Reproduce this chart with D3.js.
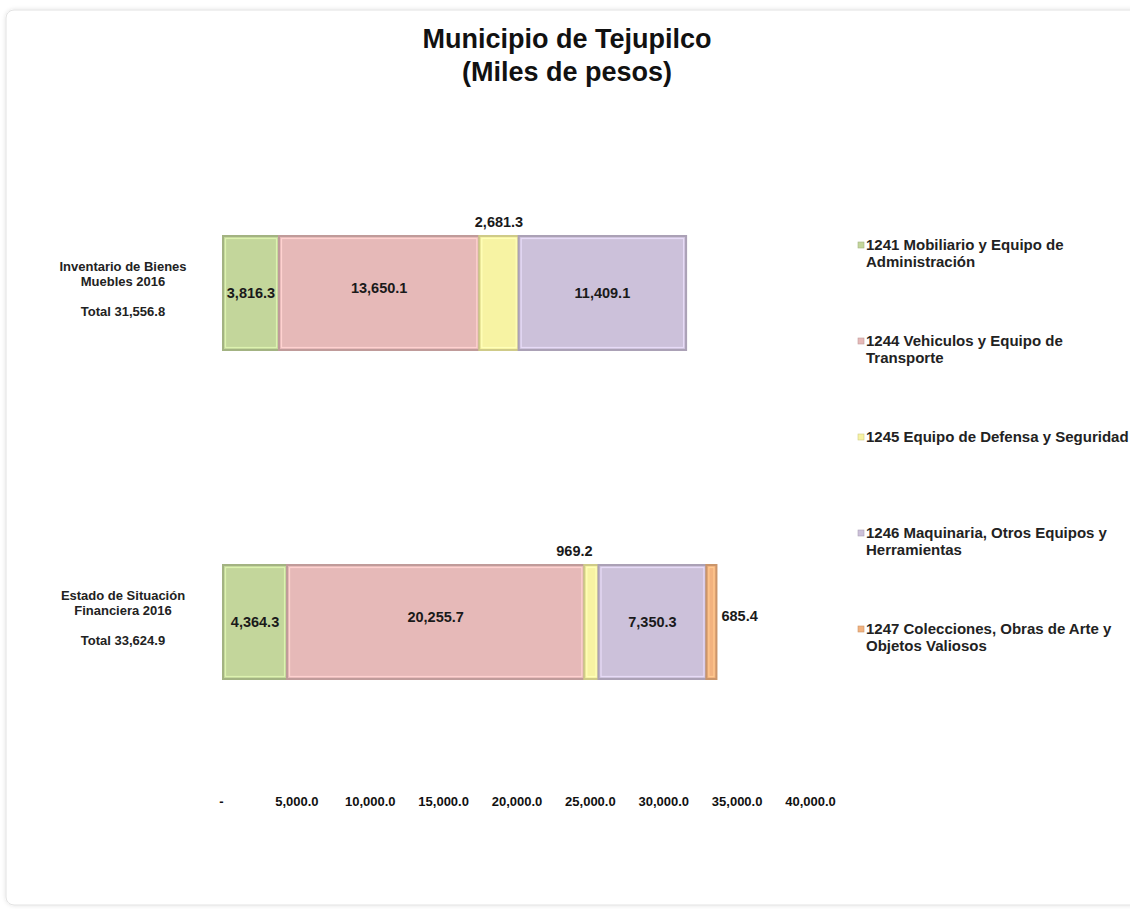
<!DOCTYPE html>
<html>
<head>
<meta charset="utf-8">
<script src="https://cdn.jsdelivr.net/npm/d3@7"></script>
<style>
  html, body { margin: 0; padding: 0; background: #fff; }
  svg { display: block; }
</style>
</head>
<body>
<svg id="chart" width="1130" height="909"></svg>
<script>
// Chart data
const categories = ["Inventario", "Estado"];
const categoryLines = [
  ["Inventario de Bienes", "Muebles 2016", "", "Total 31,556.8"],
  ["Estado de Situación", "Financiera 2016", "", "Total  33,624.9"]
];
const seriesNames = [
  "1241 Mobiliario y Equipo de Administración",
  "1244 Vehiculos y Equipo de Transporte",
  "1245 Equipo de Defensa y Seguridad",
  "1246 Maquinaria, Otros Equipos y Herramientas",
  "1247 Colecciones, Obras de Arte y Objetos Valiosos"
];
const legendLines = [
  ["1241 Mobiliario y Equipo de", "Administración"],
  ["1244 Vehiculos y Equipo de", "Transporte"],
  ["1245 Equipo de Defensa y Seguridad"],
  ["1246 Maquinaria, Otros Equipos y", "Herramientas"],
  ["1247 Colecciones, Obras de Arte y", "Objetos Valiosos"]
];
const inventarioValues = [3816.3, 13650.1, 2681.3, 11409.1, 0];
const estadoValues = [4364.3, 20255.7, 969.2, 7350.3, 685.4];
const tickValues = [0, 5000, 10000, 15000, 20000, 25000, 30000, 35000, 40000];
const colors = ["#c3d69b", "#e6b9b8", "#f7f3a3", "#ccc1da", "#f2b27f"];

const svg = d3.select("#chart");
const narrow = "'Liberation Sans Narrow', 'Arial Narrow', 'Liberation Sans', Arial, sans-serif";
const sans = "'Liberation Sans', Arial, sans-serif";

// Frame with soft shadow
const defs = svg.append("defs");
const f = defs.append("filter").attr("id", "shadow").attr("x", "-5%").attr("y", "-5%").attr("width", "110%").attr("height", "110%");
f.append("feDropShadow").attr("dx", 0).attr("dy", 0).attr("stdDeviation", 2).attr("flood-color", "#000").attr("flood-opacity", 0.12);
svg.append("rect").attr("x", 6).attr("y", 10).attr("width", 1200).attr("height", 895).attr("rx", 8)
  .attr("fill", "#fff").attr("stroke", "#e2e2e2").attr("filter", "url(#shadow)");

// Title
svg.append("text").attr("x", 567).attr("y", 48).attr("text-anchor", "middle")
  .attr("font-family", narrow).attr("font-weight", 700).attr("font-size", 27).attr("fill", "#111")
  .text("Municipio de Tejupilco");
svg.append("text").attr("x", 567).attr("y", 81).attr("text-anchor", "middle")
  .attr("font-family", narrow).attr("font-weight", 700).attr("font-size", 27).attr("fill", "#111")
  .text("(Miles de pesos)");

// Scales
const x = d3.scaleLinear().domain([0, 40000]).range([223, 810]);
const y = d3.scalePoint().domain(categories).range([293, 622]);
const barH = 114;

const rows = [inventarioValues, estadoValues].map((vals, ci) => {
  let acc = 0;
  return vals.map((v, si) => {
    const d = { cat: categories[ci], si, v, x0: acc, x1: acc + v };
    acc += v;
    return d;
  });
});

// Bars
const bars = svg.append("g");
rows.flat().filter(d => d.v > 0).forEach(d => {
  const x0 = x(d.x0), x1 = x(d.x1), yc = y(d.cat);
  const c = d3.color(colors[d.si]);
  bars.append("rect").attr("x", x0).attr("y", yc - barH / 2).attr("width", x1 - x0).attr("height", barH)
    .attr("fill", c.formatHex()).attr("stroke", c.darker(0.5).formatHex()).attr("stroke-width", 2);
  if (x1 - x0 > 6) {
    bars.append("rect").attr("x", x0 + 2.5).attr("y", yc - barH / 2 + 2.5).attr("width", x1 - x0 - 5).attr("height", barH - 5)
      .attr("fill", "none").attr("stroke", c.brighter(0.35).formatHex()).attr("stroke-width", 1.2);
  }
});

// Data labels
const fmt = d3.format(",.1f");
const labels = svg.append("g").attr("font-family", sans).attr("font-weight", 700).attr("font-size", 14.5).attr("fill", "#1a1a1a");
rows.flat().filter(d => d.v > 0).forEach(d => {
  const x0 = x(d.x0), x1 = x(d.x1), yc = y(d.cat);
  let lx = (x0 + x1) / 2, ly = yc + 5, anchor = "middle";
  if (d.si === 1) ly = yc;
  if (x1 - x0 < 45) {
    if (d.si === 2) { ly = yc - barH / 2 - 9; lx = d.cat === "Estado" ? lx - 17 : lx; }
    else { lx = x1 + 5; anchor = "start"; ly = yc - 1; }
  }
  labels.append("text").attr("x", lx).attr("y", ly).attr("text-anchor", anchor).text(fmt(d.v));
});

// Category labels
const catG = svg.append("g").attr("font-family", sans).attr("font-weight", 700).attr("font-size", 13).attr("fill", "#222")
  .attr("text-anchor", "middle");
categories.forEach((c, i) => {
  categoryLines[i].forEach((line, j) => {
    if (!line) return;
    catG.append("text").attr("x", 123).attr("y", y(c) - 22 + j * 14.5 + (j >= 3 ? 1 : 0)).text(line);
  });
});

// X axis
const axis = d3.axisBottom(x).tickValues(tickValues).tickSize(0)
  .tickFormat(v => v === 0 ? "-" : fmt(v));
const ax = svg.append("g").attr("transform", "translate(0,794)").call(axis);
ax.select(".domain").remove();
ax.selectAll("text").attr("font-family", narrow).attr("font-weight", 700).attr("font-size", 13).attr("fill", "#111");
ax.selectAll(".tick").filter(v => v === 0).select("text").attr("dx", -2);

// Legend
const leg = svg.append("g").attr("font-family", sans).attr("font-weight", 700).attr("font-size", 15).attr("fill", "#222");
const legY = d3.scalePoint().domain(seriesNames).range([250, 634]);
seriesNames.forEach((s, i) => {
  const ly = legY(s);
  leg.append("rect").attr("x", 858).attr("y", ly - 8).attr("width", 6).attr("height", 6)
    .attr("fill", colors[i]).attr("stroke", d3.color(colors[i]).darker(0.5).formatHex()).attr("stroke-width", 0.6);
  legendLines[i].forEach((line, j) => {
    leg.append("text").attr("x", 866).attr("y", ly + j * 16.5).text(line);
  });
});
</script>
</body>
</html>
